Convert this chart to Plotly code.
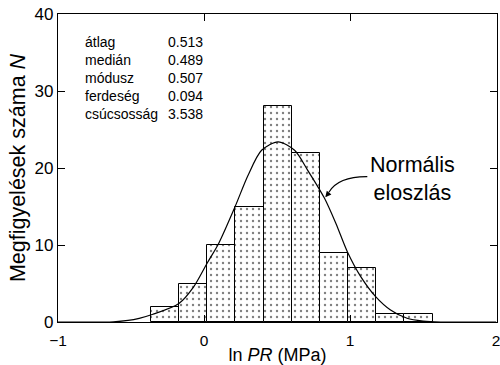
import plotly.graph_objects as go

# Histogram
bin_edges = [-0.365, -0.172, 0.02, 0.213, 0.41, 0.604, 0.794, 0.987, 1.179, 1.372, 1.566]
counts = [2, 5, 10, 15, 28, 22, 9, 7, 1, 1]

# Fitted normal curve
curve_x = [-1.0, -0.62, -0.52, -0.444, -0.35, -0.172, -0.07, 0.02, 0.1, 0.213, 0.30, 0.394,
           0.507, 0.62, 0.71, 0.824, 0.903, 0.982, 1.073, 1.175, 1.277, 1.39, 1.5, 1.62, 2.0]
curve_y = [0.0, 0.02, 0.2, 0.48, 1.0, 2.4, 4.6, 7.6, 10.2, 15.0, 19.0, 22.3,
           23.4, 22.3, 19.7, 16.1, 12.8, 9.1, 5.9, 3.3, 1.56, 0.48, 0.12, 0.0, 0.0]

stat_labels = ["átlag", "medián", "módusz", "ferdeség", "csúcsosság"]
stat_values = ["0.513", "0.489", "0.507", "0.094", "3.538"]

x_ticks = [-1, 0, 1, 2]
y_ticks = [0, 10, 20, 30, 40]

centers = [(a + b) / 2 for a, b in zip(bin_edges[:-1], bin_edges[1:])]
widths = [b - a for a, b in zip(bin_edges[:-1], bin_edges[1:])]

FONT = "Liberation Sans, Arial, sans-serif"

fig = go.Figure()
fig.add_trace(go.Bar(
    x=centers, y=counts, width=widths,
    marker=dict(color="white",
                line=dict(color="black", width=1),
                pattern=dict(shape=".", fgcolor="black", bgcolor="white",
                             size=6, solidity=0.12)),
    showlegend=False, hoverinfo="skip"))
fig.add_trace(go.Scatter(
    x=curve_x, y=curve_y, mode="lines",
    line=dict(color="black", width=1.2, shape="spline", smoothing=0.8),
    showlegend=False, hoverinfo="skip"))

annotations = []
row_y0, row_dy = 36.4, 2.35
for i, (lab, val) in enumerate(zip(stat_labels, stat_values)):
    yy = row_y0 - i * row_dy
    annotations.append(dict(x=-0.832, y=yy, xref="x", yref="y", text=lab, showarrow=False,
                            xanchor="left", yanchor="middle",
                            font=dict(family=FONT, size=14, color="black")))
    annotations.append(dict(x=-0.262, y=yy, xref="x", yref="y", text=val, showarrow=False,
                            xanchor="left", yanchor="middle",
                            font=dict(family=FONT, size=14, color="black")))

annotations.append(dict(x=1.43, y=18.6, xref="x", yref="y", text="Normális<br>eloszlás",
                        showarrow=False, xanchor="center", yanchor="middle", align="center",
                        font=dict(family=FONT, size=21.5, color="black")))
# arrowhead of the curved pointer
annotations.append(dict(x=0.83, y=16.2, xref="x", yref="y", text="", showarrow=True,
                        ax=5, ay=-6, arrowhead=2, arrowsize=1, arrowwidth=1.2,
                        arrowcolor="black", standoff=0))

shapes = [dict(type="path", xref="x", yref="y",
               path="M 1.118,18.87 Q 0.92,18.9 0.855,16.85",
               line=dict(color="black", width=1.2))]

fig.update_layout(
    width=500, height=365,
    margin=dict(l=58, r=0, t=14, b=43),
    plot_bgcolor="white", paper_bgcolor="white",
    bargap=0,
    annotations=annotations, shapes=shapes,
    font=dict(family=FONT, color="black"),
)
fig.update_xaxes(range=[-1, 2.006], tickvals=x_ticks, ticks="inside", ticklen=7, tickwidth=1,
                 tickcolor="black", showline=True, linecolor="black", linewidth=1.2,
                 mirror="ticks", showgrid=False, zeroline=False,
                 tickfont=dict(family=FONT, size=15.5, color="black"),
                 ticklabelstandoff=4, ticklabeloverflow="allow",
                 title=dict(text="ln <i>PR</i> (MPa)", font=dict(family=FONT, size=18, color="black"),
                            standoff=0))
fig.update_yaxes(range=[0, 40], tickvals=y_ticks, ticks="inside", ticklen=7, tickwidth=1,
                 tickcolor="black", showline=True, linecolor="black", linewidth=1.2,
                 mirror="ticks", showgrid=False, zeroline=False,
                 tickfont=dict(family=FONT, size=17, color="black"),
                 title=dict(text="Megfigyelések száma <i>N</i>",
                            font=dict(family=FONT, size=21.5, color="black"), standoff=3))

fig.write_html("out.html")
